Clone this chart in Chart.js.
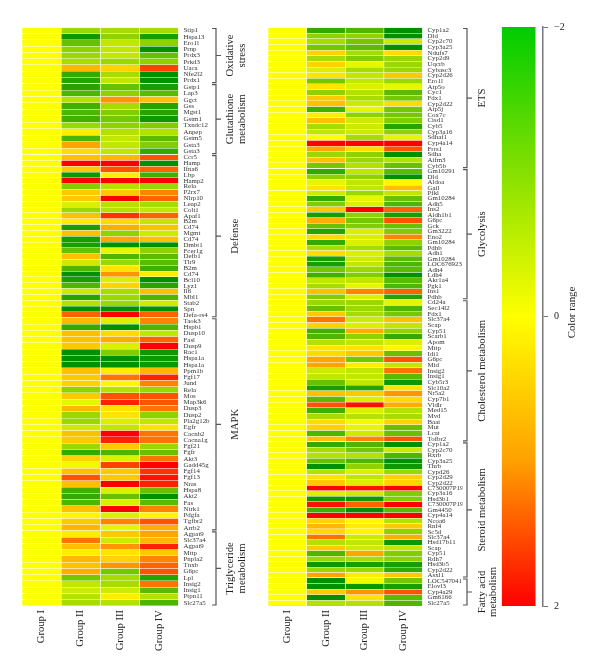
<!DOCTYPE html>
<html>
<head>
<meta charset="utf-8">
<title>Heat map</title>
<script src="https://cdn.jsdelivr.net/npm/chart.js@4"></script>
<style>
html, body { margin: 0; padding: 0; background: #fff; }
#wrap { position: relative; width: 600px; height: 672px; }
canvas { position: absolute; left: 0; top: 0; }
</style>
</head>
<body>
<div id="wrap">
<canvas id="leftChart" width="600" height="672"></canvas>
<canvas id="rightChart" width="600" height="672"></canvas>
<canvas id="barChart" width="600" height="672"></canvas>
</div>
<script>
const groupNames = ['Group I', 'Group II', 'Group III', 'Group IV'];

// --- left panel ---
const oxGenes = ['Stip1','Hspa13','Ero1l','Prnp','Prdx3','Prkd3','Uaca','Nfe2l2','Prdx1'];
const oxG1 = [0,0,0,0,0,0,0,0,0];
const oxG2 = [-0.8,-1.9,-1.2,-0.9,-0.8,-0.7,0.8,-1.6,-1.7];
const oxG3 = [-0.7,-0.9,-0.5,-0.5,-0.5,-0.8,0.5,-0.7,-0.5];
const oxG4 = [-0.7,-1.8,-0.9,-2,-1.2,-0.9,1.6,-2,-2];

const gluGenes = ['Gstp1','Lap3','Ggct','Gss','Mgst1','Gstm1','Txndc12','Anpep','Gstm5','Gsta3','Gsta3'];
const gluG1 = [0,0,0,0,0,0,0,0,0,0,0];
const gluG2 = [-1.7,-1.4,-0.6,-1.5,-1.4,-1.5,-0.8,0.2,-1.4,1,0.4];
const gluG3 = [-1.2,-0.9,1.1,-0.7,-1,-1.1,-0.9,-0.6,-0.5,-0.5,-0.5];
const gluG4 = [-1.8,-1.3,0.7,-1.7,-1.7,-1.9,-1,-0.6,-1.3,-1,-1.6];

const defGenes = ['Ccr5','Hamp','Ifna6','Lbp','Hamp2','Rela','P2rx7','Nlrp10','Leap2','Colt1','Apaf1','B2m','Cd74','Mgmt','Cd74','Dmbt1','Fcer1g','Defb1','Tlr9','B2m','Cd74','Bcl10','Lyz1','Il6','Mbl1','Stab2','Spn','Defa-rs4'];
const defG1 = [0,0,0,0,0,0,0,0,0,0,0,0,0,0,0,0,0,0,0,0,0,0,0,0,0,0,0,0];
const defG2 = [0.7,2,0.6,-1.9,2,-1,0.6,0.6,-0.3,-0.8,0.7,0.2,-1.8,0.7,-1.8,-1.8,-1.2,0.7,-0.4,-1.4,-2,-1.8,-1.4,-0.4,-1.7,-0.6,-2,1.4];
const defG3 = [0.8,2,1.5,0.2,2,-0.6,0.6,2,-0.6,-0.6,1.7,0.4,0.9,-0.9,1,-2,-0.2,-1.4,-0.8,0.3,1.1,-0.3,0.5,-0.7,-0.8,-0.8,-2,2];
const defG4 = [1.5,-2,1.4,-1.5,2,-0.8,1.2,1.4,-0.7,-0.5,1.4,-0.5,0.7,-0.4,0.7,-2,-0.9,-1.3,-1.3,-1.5,0.2,-2,-1.7,0.7,-1.4,-0.4,-2,1.4];

const mapkGenes = ['Taok3','Hspb1','Dusp10','Fasl','Dusp9','Rac1','Hspa1a','Hspa1a','Ppm1b','Fgf17','Jund','Rela','Mos','Map3k6','Dusp3','Dusp2','Pla2g12b','Egfr','Cacnb2','Cacna1g','Fgf21','Fgfr','Akt3','Gadd45g','Fgf14','Fgf13','Nras','Hspa8','Akt2','Fas','Ntrk1','Pdgfa','Tgfbr2','Arrb2'];
const mapkG1 = [0,0,0,0,0,0,0,0,0,0,0,0,0,0,0,0,0,0,0,0,0,0,0,0,0,0,0,0,0,0,0,0,0,0];
const mapkG2 = [0.8,-1.6,0.7,0.7,0.6,-2,-2,-2,0.7,0.6,0.5,-0.9,0.6,-0.2,0.8,-0.8,-0.8,-0.4,0.7,0.6,-0.8,-1.6,0.5,-0.1,0.7,1.5,0.7,-1.5,-1.6,-1.4,0.7,0.1,0.6,0.8];
const mapkG3 = [-0.3,-2,0.4,0.9,-0.3,-1,-2,-2,0.2,1.3,0.1,-0.6,1.5,1.8,0.3,0.3,-0.3,-0.5,2,1.8,0.6,-1.4,-0.3,1.6,0.6,0.6,2,-0.3,-1.2,-0.3,2,-0.3,1.2,-0.2];
const mapkG4 = [1.2,-1.4,-0.5,1.4,2,-1.9,-1.9,-1.9,0.8,1.8,1.2,-0.8,1.5,1.5,1.3,-0.9,-0.5,0.3,1.3,1.3,-0.8,-1.2,1.3,2,1.7,1.9,1.8,-1.2,-2,-1.3,1.2,0.1,1.5,0.9];

const triGenes = ['Agpat9','Slc37a4','Agpat9','Mttp','Pnpla2','Tnxb','G6pc','Lpl','Insig2','Insig1','Ptpn11','Slc27a5'];
const triG1 = [0,0,0,0,0,0,0,0,0,0,0,0];
const triG2 = [0.2,1.3,0.7,0.2,0.8,0.7,0.9,-1.1,-0.5,-0.4,-0.6,-0.7];
const triG3 = [0.6,-0.4,1.1,0.3,0.5,1.1,-1.1,-0.7,-0.7,-0.4,0.2,-0.6];
const triG4 = [1,0.8,1.8,0.6,1.2,1.4,1.5,-1.7,1.3,-1.3,-0.6,-1.4];

// --- right panel ---
const etsGenes = ['Cyp1a2','Dld','Cyp2c70','Cyp3a25','Ndufs7','Cyp2d9','Uqcrb','Cybasc3','Cyp2d26','Ero1l','Atp5o','Cyc1','Fdx1','Cyp2d22','Atp5j','Cox7c','Cisd1','Cyb5','Cyp3a16','Sdhaf1','Cyp4a14','Frrs1','Sdha','Aifm3','Cyb5b'];
const etsG1 = [0,0,0,0,0,0,0,0,0,0,0,0,0,0,0,0,0,0,0,0,0,0,0,0,0];
const etsG2 = [-1.6,-0.9,-0.7,-1.1,0.5,-0.7,0.5,-0.3,0.3,-1.1,0.3,-0.9,0.6,0.7,-1.5,0.2,0.7,-0.7,-0.5,0,2,1,-0.8,0.7,-1.1];
const etsG3 = [-1.4,-0.9,-1.1,-1.3,-0.7,-1,-0.2,-0.7,-0.5,-0.5,-0.3,-0.6,-0.7,-0.4,-0.2,-0.9,-0.4,-0.4,-0.4,-0.7,2,0.4,-0.9,-0.8,-0.6];
const etsG4 = [-2,-2,-0.4,-2,0.4,-0.8,-0.8,-0.8,0.6,-0.8,-0.2,-1.3,-1.1,0.4,-1.1,-1.1,-1,-1.7,-0.9,-0.2,2,1.5,-2,-0.6,-1.2];

const glyGenes = ['Gm10291','Dld','Aldoa','Gail','Pfkl','Gm10284','Adh5','Ins2','Aldh1b1','G6pc','Gck','Gm3222','Eno2','Gm10284','Pdhb','Adh1','Gm10284','LOC676923','Adh4','Ldh4','Akr1a4','Pgk1','Ins1','Pdhb'];
const glyG1 = [0,0,0,0,0,0,0,0,0,0,0,0,0,0,0,0,0,0,0,0,0,0,0,0];
const glyG2 = [-1.6,-0.9,-0.2,0.3,-0.4,-1.6,-1,0.6,-1.8,0.9,-1.2,-1.7,0.4,-1.6,-0.7,0.4,-1.8,-1.8,-1.1,-1.5,-0.5,-0.7,0.7,-1];
const glyG3 = [-0.5,-0.9,-0.5,-0.5,-0.8,-0.2,-0.3,2,-0.9,-1.1,-1,-0.3,-0.3,-0.3,-0.7,-0.3,-0.4,-0.5,-0.8,-1,-0.5,-0.2,1.2,-0.3];
const glyG4 = [-1.3,-2,0.1,0.7,-0.5,-1.2,-1.4,1.4,-1.8,1.5,-1.2,-1,1.2,-0.9,-1.3,-0.7,-1.3,-1.4,-1.3,-2,-1.3,-1.4,1.4,-1.7];

const choGenes = ['Cd24a','Sec14l2','Fdx1','Slc37a4','Scap','Cyp51','Scarb1','Apom','Mttp','Idi1','G6pc','Mid','Insig2','Insig1','Cyb5r3','Slc10a2','Nr5a2','Cyp7b1','Vldlr','Med15','Mvd','Baat','Mut','Lcat','Tofbr2'];
const choG1 = [0,0,0,0,0,0,0,0,0,0,0,0,0,0,0,0,0,0,0,0,0,0,0,0,0];
const choG2 = [-0.8,-1.2,0.6,1.3,0.5,-1.5,-1.4,-0.6,0.3,0.4,1,1,-0.4,-0.5,-1.2,-1.8,0.7,-1.3,1.5,-1.5,-0.7,0.4,0.5,-1.4,0.7];
const choG3 = [-0.8,-0.8,-0.7,-0.4,-0.3,0.9,-0.9,-0.5,0.3,0.6,-1.1,0.2,-0.5,-0.5,-0.5,-1.7,0.6,-0.3,1.9,-0.3,-0.6,-0.1,-0.2,-0.4,1.2];
const choG4 = [-0.2,-1.4,-1.1,0.7,-0.5,-0.9,-1.6,-0.3,0.1,-1.2,1.5,-0.5,1.3,-1.3,-1.9,0.3,1.1,0.4,0.9,-0.6,-0.7,0.5,-1.2,-1.2,1.5];

const steGenes = ['Cyp1a2','Cyp2c70','Rxrb','Cyp3a25','Thrb','Cypd26','Cyp2d29','Cyp2d22','C730007P19...','Cyp3a16','Hsd3b1','C730007P19...','Gm4450','Cyp4a14','Ncoa6','Rnf4','Sc5d','Slc37a4','Hsd17b11','Scap','Cyp51','Rdh7','Hsd3b5','Cyp2d22','Asxl1'];
const steG1 = [0,0,0,0,0,0,0,0,0,0,0,0,0,0,0,0,0,0,0,0,0,0,0,0,0];
const steG2 = [-1.6,-0.7,-0.6,-1.2,-2,-0.6,0.3,0.6,2,-0.3,-1.9,1.9,-1.5,2,0.5,0.8,0.4,1.3,-0.6,0.6,-1.4,-0.8,-1.9,-0.8,1];
const steG3 = [-1.4,-1.1,-0.6,-1.4,-0.9,-0.3,-0.5,-0.3,1.9,-0.4,-1.9,1.4,-2,2,0.1,0.2,0.1,-0.4,-0.5,-0.4,1,-0.7,-1.8,-0.8,0.2];
const steG4 = [-2,-0.4,-1.4,-2,-1.9,-0.8,0.5,0.5,2,-1,-1,2,-1.3,2,-0.6,0.6,-0.9,0.9,-1.9,-0.5,-1,-0.9,-1.8,-1.6,0.6];

const fatGenes = ['LOC547041','Elovl3','Cyp4a29','Gm6166','Slc27a5'];
const fatG1 = [0,0,0,0,0];
const fatG2 = [-2,-2,0.6,-2,-0.6];
const fatG3 = [-0.1,-1.9,1.1,0.3,-0.6];
const fatG4 = [-1.1,-1.8,1.5,-1.3,-1.4];

// --- colour keys ---
const rampValues = [-2, -1, 0, 1, 2];
const rampColors = [[0,145,0], [130,205,0], [255,255,0], [255,165,0], [255,0,0]];
const keyRange = [-2, 2];
const keyTicks = [-2, 0, 2];
const keyColors = ['#00cc00', '#85e000', '#ffff00', '#ffa000', '#ff0000'];

const SERIF = '"Liberation Serif", "DejaVu Serif", serif';

const leftGroups = [
    { id: 'ox', genes: oxGenes, rows: [oxG1, oxG2, oxG3, oxG4], title: ['Oxidative', 'stress'], weight: 56 },
    { id: 'glu', genes: gluGenes, rows: [gluG1, gluG2, gluG3, gluG4], title: ['Glutathione', 'metabolism'], weight: 71 },
    { id: 'def', genes: defGenes, rows: [defG1, defG2, defG3, defG4], title: ['Defense'], weight: 163 },
    { id: 'mapk', genes: mapkGenes, rows: [mapkG1, mapkG2, mapkG3, mapkG4], title: ['MAPK'], weight: 213 },
    { id: 'tri', genes: triGenes, rows: [triG1, triG2, triG3, triG4], title: ['Triglyceride', 'metabolism'], weight: 75 }
];
const rightGroups = [
    { id: 'ets', genes: etsGenes, rows: [etsG1, etsG2, etsG3, etsG4], title: ['ETS'], weight: 141 },
    { id: 'gly', genes: glyGenes, rows: [glyG1, glyG2, glyG3, glyG4], title: ['Glycolysis'], weight: 131 },
    { id: 'cho', genes: choGenes, rows: [choG1, choG2, choG3, choG4], title: ['Cholesterol metabolism'], weight: 142 },
    { id: 'ste', genes: steGenes, rows: [steG1, steG2, steG3, steG4], title: ['Steroid metabolism'], weight: 136 },
    { id: 'fat', genes: fatGenes, rows: [fatG1, fatG2, fatG3, fatG4], title: ['Fatty acid', 'metabolism'], weight: 28 }
];

// value -> colour on the heat map ramp
function heatColor(v) {
    let i = 0;
    while (i < rampValues.length - 2 && v > rampValues[i + 1]) i++;
    const t = (v - rampValues[i]) / (rampValues[i + 1] - rampValues[i]);
    const a = rampColors[i], b = rampColors[i + 1];
    const c = a.map((n, k) => Math.round(n + (b[k] - n) * t));
    return `rgb(${c[0]},${c[1]},${c[2]})`;
}

// brackets and the rotated group names to the right of the gene labels
function bracketPlugin(groups, bracketX, lineX) {
    return {
        id: 'brackets',
        afterDraw(chart) {
            const ctx = chart.ctx;
            const x = chart.chartArea.right + bracketX;
            ctx.save();
            groups.forEach(g => {
                const s = chart.scales[g.id];
                const top = s.top + 1, bottom = s.bottom - 1, mid = (top + bottom) / 2;
                ctx.strokeStyle = '#555';
                ctx.lineWidth = 1.2;
                ctx.beginPath();
                ctx.moveTo(x - 4, top);
                ctx.lineTo(x, top);
                ctx.lineTo(x, bottom);
                ctx.lineTo(x - 4, bottom);
                ctx.moveTo(x, mid);
                ctx.lineTo(x + 5, mid);
                ctx.stroke();

                ctx.fillStyle = '#222';
                ctx.font = '10.7px ' + SERIF;
                ctx.textAlign = 'center';
                ctx.textBaseline = 'middle';
                const xs = g.title.length > 1 ? lineX.double : lineX.single;
                g.title.forEach((line, i) => {
                    ctx.save();
                    ctx.translate(chart.chartArea.right + xs[i], mid);
                    ctx.rotate(-Math.PI / 2);
                    ctx.fillText(line, 0, 0);
                    ctx.restore();
                });
            });
            ctx.restore();
        }
    };
}

function drawHeat(canvasId, groups, left, right, bracketX, lineX) {
    const datasets = [];
    const scales = {
        x: {
            type: 'linear',
            position: 'bottom',
            min: 0,
            max: groupNames.length,
            grid: { display: false, drawTicks: false },
            border: { display: false },
            afterBuildTicks: s => { s.ticks = groupNames.map((_, i) => ({ value: i + 0.5 })); },
            afterFit: s => { s.height = 66; },
            ticks: {
                autoSkip: false,
                minRotation: 90,
                maxRotation: 90,
                padding: 4,
                color: '#222',
                font: { family: SERIF, size: 10.6 },
                callback: v => groupNames[v - 0.5]
            }
        }
    };

    groups.forEach((g, n) => {
        scales[g.id] = {
            type: 'category',
            labels: g.genes,
            position: 'right',
            stack: 'genes',
            stackWeight: g.weight,
            weight: n,
            offset: true,
            // faint lines between the rows, drawn over the cells
            grid: { offset: true, z: 1, drawTicks: false, color: 'rgba(255,255,255,0.4)', lineWidth: 1 },
            border: { display: false },
            afterFit: s => { s.width = 40; },
            ticks: {
                autoSkip: false,
                padding: 5,
                color: '#333',
                font: { family: SERIF, size: 6.9 }
            }
        };
        g.rows.forEach((row, col) => {
            datasets.push({
                label: groupNames[col],
                xAxisID: 'x',
                yAxisID: g.id,
                data: row.map(() => [col, col + 1]),
                backgroundColor: row.map(heatColor),
                borderColor: '#fff',
                borderWidth: { left: 0.6, right: 0.6, top: 0, bottom: 0 },
                borderSkipped: false,
                barPercentage: 1,
                categoryPercentage: 1,
                grouped: false
            });
        });
    });

    new Chart(document.getElementById(canvasId), {
        type: 'bar',
        data: { datasets: datasets },
        options: {
            indexAxis: 'y',
            responsive: false,
            animation: false,
            layout: { padding: { left: left, right: 600 - right - 40, top: 27.5, bottom: 0 } },
            plugins: { legend: { display: false }, tooltip: { enabled: false } },
            scales: scales
        },
        plugins: [bracketPlugin(groups, bracketX, lineX)]
    });
}

function drawKey() {
    new Chart(document.getElementById('barChart'), {
        type: 'bar',
        data: {
            labels: ['Color range'],
            datasets: [{
                data: [keyRange],
                barThickness: 33,
                backgroundColor: ctx => {
                    const area = ctx.chart.chartArea;
                    if (!area) return keyColors[2]; // before the first layout
                    const y = ctx.chart.scales.y;
                    const grad = ctx.chart.ctx.createLinearGradient(0, y.getPixelForValue(keyRange[0]), 0, y.getPixelForValue(keyRange[1]));
                    keyColors.forEach((c, i) => grad.addColorStop(i / (keyColors.length - 1), c));
                    return grad;
                }
            }]
        },
        options: {
            responsive: false,
            animation: false,
            layout: { padding: { left: 494.4, right: 0, top: 27, bottom: 66 } },
            plugins: { legend: { display: false }, tooltip: { enabled: false } },
            scales: {
                x: { display: false },
                y: {
                    position: 'right',
                    reverse: true,
                    min: keyRange[0],
                    max: keyRange[1],
                    afterBuildTicks: s => { s.ticks = keyTicks.map(v => ({ value: v })); },
                    afterFit: s => { s.width = 57; },
                    border: { color: '#777', width: 1.5 },
                    grid: { drawOnChartArea: false, tickLength: 5, color: '#777', tickWidth: 1 },
                    ticks: {
                        padding: 6,
                        color: '#222',
                        font: { family: SERIF, size: 10 },
                        callback: v => String(v).replace('-', '\u2212')
                    }
                }
            }
        },
        plugins: [{
            id: 'keyTitle',
            afterDraw(chart) {
                const ctx = chart.ctx;
                ctx.save();
                ctx.fillStyle = '#222';
                ctx.font = '10.9px ' + SERIF;
                ctx.textAlign = 'center';
                ctx.textBaseline = 'middle';
                ctx.translate(chart.chartArea.right + 29, chart.scales.y.getPixelForValue(0) - 4);
                ctx.rotate(-Math.PI / 2);
                ctx.fillText('Color range', 0, 0);
                ctx.restore();
            }
        }]
    });
}

drawHeat('leftChart', leftGroups, 22, 178.5, 37.5, { single: [57], double: [52, 64] });
drawHeat('rightChart', rightGroups, 268, 422.5, 44.5, { single: [59.5], double: [59.5, 71] });
drawKey();
</script>
</body>
</html>
